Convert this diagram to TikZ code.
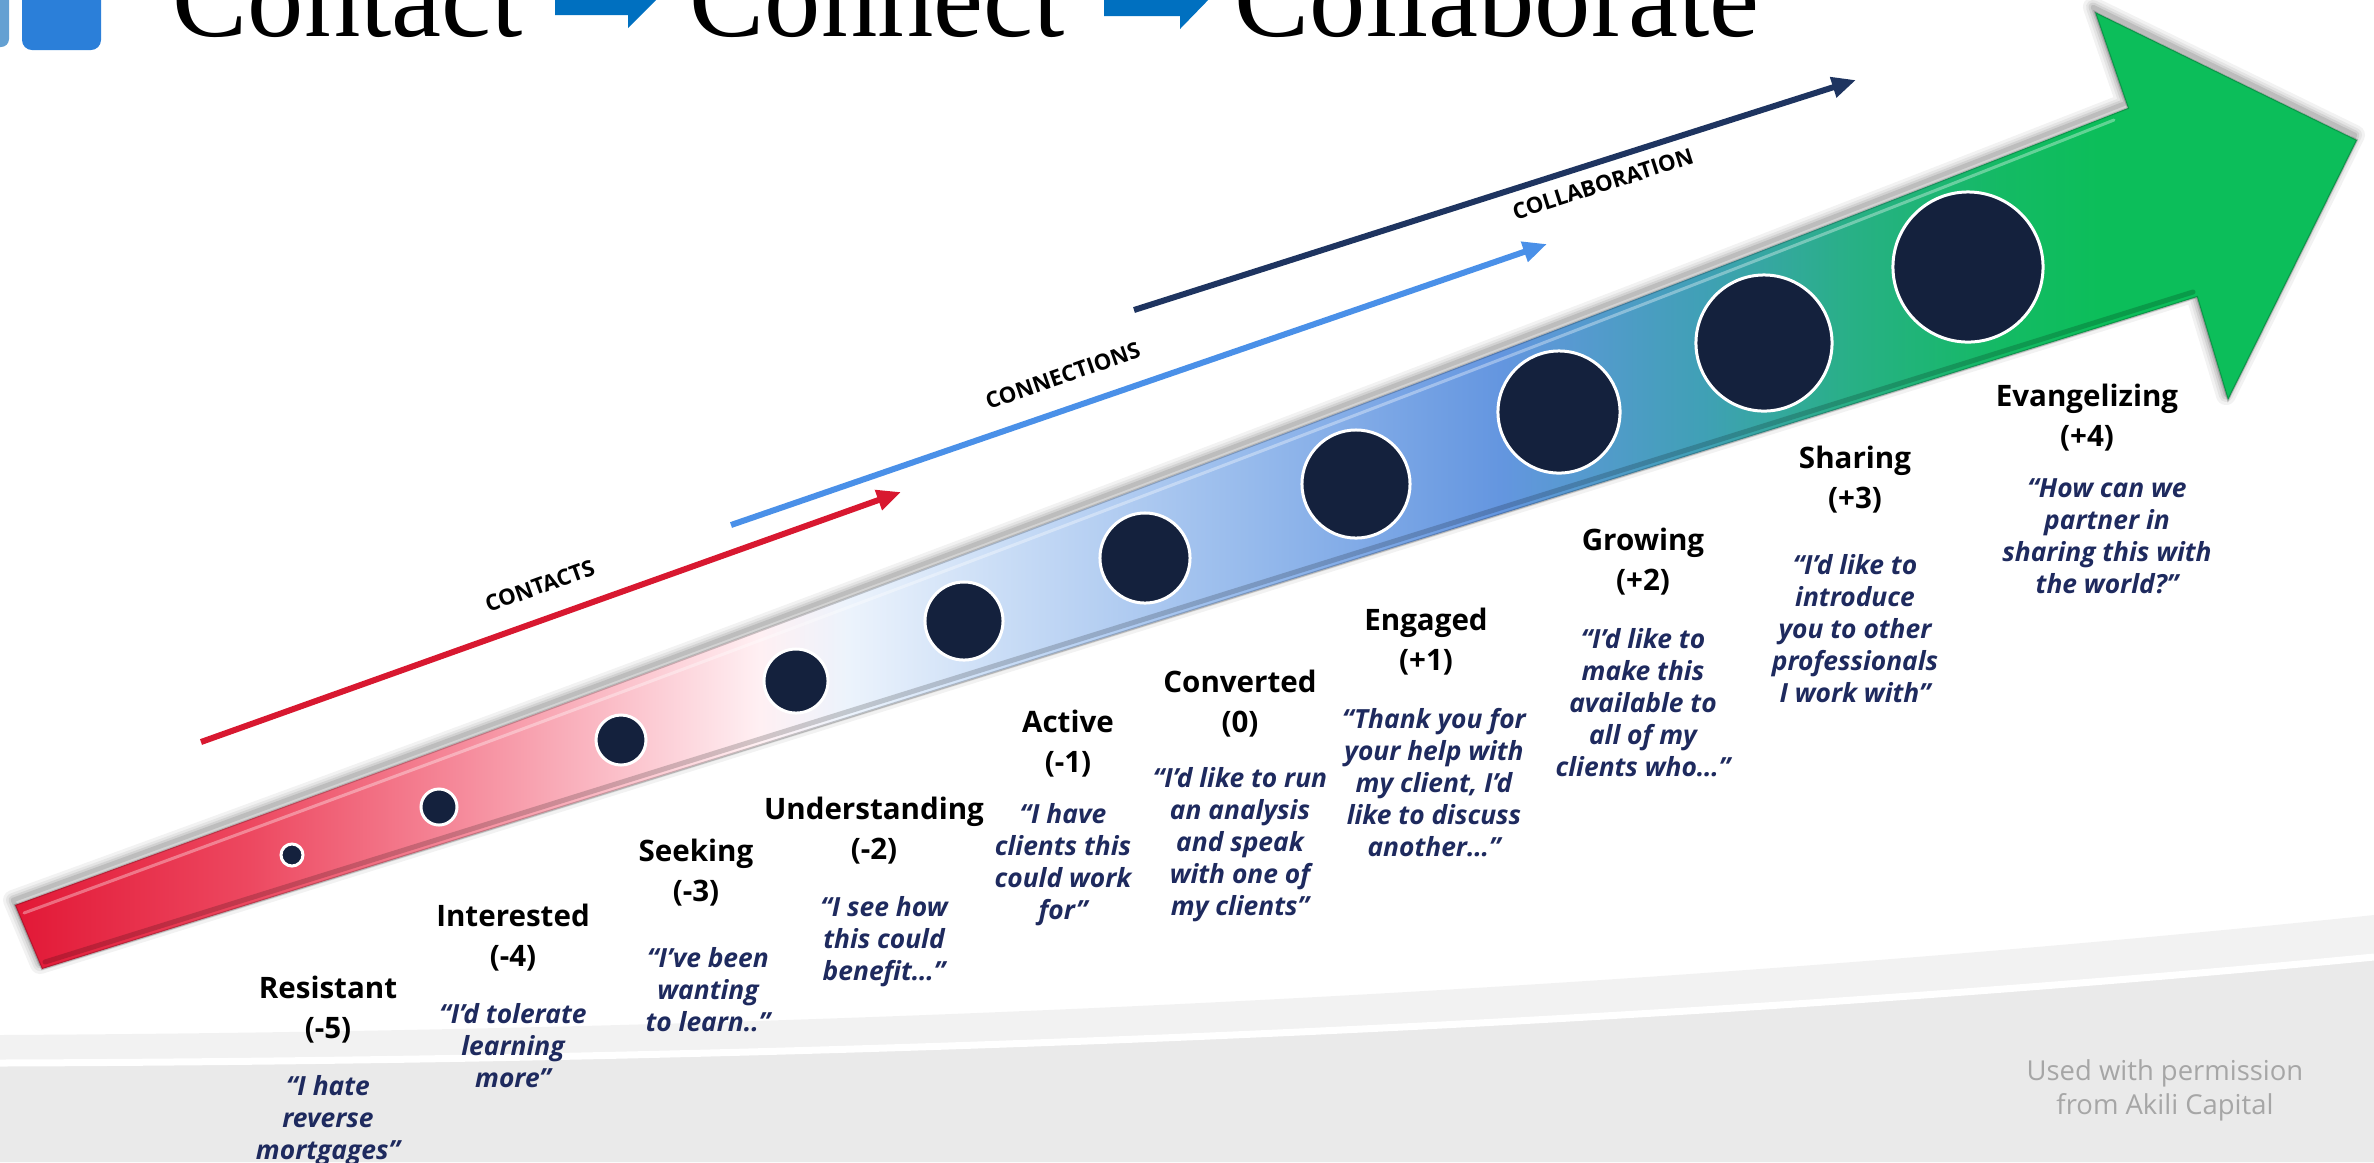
\documentclass[tikz,border=0pt]{standalone}
\usepackage{fontspec}
\setmainfont{Open Sans}
\newfontfamily\headfont{Liberation Serif}
\usepackage{xcolor}
\usepackage{tikz}
\usetikzlibrary{arrows.meta, positioning}

\definecolor{dotnavy}{RGB}{20,33,61}
\definecolor{quotenavy}{RGB}{30,42,94}
\definecolor{titleblue}{RGB}{0,112,192}
\definecolor{iconblue}{RGB}{43,127,217}
\definecolor{iconlight}{RGB}{100,160,210}
\definecolor{contactred}{RGB}{216,24,48}
\definecolor{connectblue}{RGB}{74,144,232}
\definecolor{collabnavy}{RGB}{30,52,96}
\definecolor{creditgrey}{RGB}{166,166,166}
\definecolor{bandlight}{RGB}{242,242,242}
\definecolor{banddark}{RGB}{234,234,234}

% 红 → 白 → 蓝 → 绿
\pgfdeclarehorizontalshading{journey}{100bp}{
  rgb(0bp)=(0.886,0.094,0.212);
  rgb(25bp)=(0.886,0.094,0.212);
  rgb(30bp)=(0.929,0.282,0.376);
  rgb(34.3bp)=(0.961,0.529,0.596);
  rgb(37.9bp)=(0.984,0.753,0.792);
  rgb(40.9bp)=(1,0.941,0.953);
  rgb(42.8bp)=(0.925,0.953,0.988);
  rgb(46bp)=(0.792,0.867,0.965);
  rgb(51.4bp)=(0.588,0.729,0.925);
  rgb(56.7bp)=(0.392,0.588,0.878);
  rgb(61bp)=(0.251,0.627,0.714);
  rgb(64.2bp)=(0.157,0.690,0.525);
  rgb(67.4bp)=(0.078,0.729,0.392);
  rgb(69.5bp)=(0.047,0.745,0.353);
  rgb(75bp)=(0.047,0.745,0.353);
  rgb(100bp)=(0.047,0.745,0.353)}

\tikzset{
  headline/.style={anchor=base west, inner sep=0pt,
                   font=\headfont\fontsize{32}{36}\selectfont},
  stagename/.style={align=center, inner sep=0pt,
                    font=\fontsize{8.4}{11.4}\selectfont\bfseries},
  stagequote/.style={align=center, inner sep=0pt, text=quotenavy,
                     font=\fontsize{7.5}{9.1}\selectfont\bfseries\itshape},
  stagedot/.style={circle, fill=dotnavy, draw=white, line width=0.03cm, inner sep=0pt},
  progline/.style={line width=0.06cm, -{Triangle[length=0.24cm, width=0.2cm]}},
  proglabel/.style={sloped, inner sep=0pt, text=black,
                    font=\fontsize{6.3}{7}\selectfont\bfseries},
  creditnote/.style={align=center, inner sep=0pt, text=creditgrey,
                     font=\fontsize{7.8}{9.6}\selectfont},
}

\newcommand{\bigarrowpath}{(15,905) .. controls (719,649) and (1424,384) .. (2128,108)
  -- (2095,12) -- (2357,140) -- (2228,400) -- (2197,297) -- (42,969) -- cycle}

\begin{document}
\begin{tikzpicture}[x=0.01cm, y=-0.01cm]

% ── 画布 ──────────────────────────────────────────────────────────────────────
\useasboundingbox (0,0) rectangle (2374,1162);
\clip (0,0) rectangle (2374,1162);

% 底部灰色弧带
\fill[bandlight] (0,1035) .. controls (900,1030) and (1700,985) .. (2374,915)
  -- (2374,1162) -- (0,1162) -- cycle;
\fill[banddark] (0,1063) .. controls (900,1060) and (1700,1022) .. (2374,957)
  -- (2374,1162) -- (0,1162) -- cycle;
\draw[white, line width=0.07cm] (0,1063) .. controls (900,1060) and (1700,1022) .. (2374,957);

% ── 标题 ──────────────────────────────────────────────────────────────────────
\fill[iconlight, rounded corners=0.08cm] (-40,-20) rectangle (9,47);
\fill[iconblue, rounded corners=0.1cm] (22,-20) rectangle (101,50);

\node[headline] (tContact) at (172,36) {Contact};
\node[headline] (tConnect) at (689,36) {Connect};
\node[headline] (tCollab) at (1234,36) {Collaborate};

\fill[titleblue] (555,-24) -- (628,-24) -- (628,-38) -- (661,-5) -- (628,28)
  -- (628,15) -- (555,15) -- cycle;
\fill[titleblue] (1104,-24) -- (1180,-24) -- (1180,-38) -- (1213,-5) -- (1180,29)
  -- (1180,16) -- (1104,16) -- cycle;

% ── 主箭头 ────────────────────────────────────────────────────────────────────
\begin{scope}[transform canvas={xshift=-0.02cm, yshift=0.05cm}]
  \foreach \w/\o in {0.2/0.05, 0.14/0.06, 0.09/0.08, 0.045/0.1}
    \draw[line width=\w cm, line join=round, black, opacity=\o] \bigarrowpath;
\end{scope}

\shadedraw[shading=journey, draw=black, draw opacity=0.2, line width=0.02cm] \bigarrowpath;

% 斜面高光
\draw[white, opacity=0.35, line width=0.03cm, line cap=round]
  (24,913) .. controls (722,657) and (1427,392) .. (2114,120);
\draw[black, opacity=0.18, line width=0.05cm, line cap=round]
  (45,962) -- (2193,292);

% ── 阶段圆点 ──────────────────────────────────────────────────────────────────
\foreach \cx/\cy/\r [count=\i] in {292/855/11, 439/807/18, 621/740/25, 796/681/32,
    964/621/39, 1145/558/45, 1356/484/54, 1559/412/61, 1764/343/68, 1968/267/75}
  \node[stagedot, minimum size=\r*0.02cm] (d\i) at (\cx,\cy) {};

% ── 三条进度线 ────────────────────────────────────────────────────────────────
\coordinate (ct0) at (201,742);  \coordinate (ct1) at (901,492);
\coordinate (cn0) at (731,525);  \coordinate (cn1) at (1547,244);
\coordinate (cb0) at (1134,310); \coordinate (cb1) at (1856,80);

\draw[progline, contactred] (ct0) -- node[proglabel, above=0.22cm, pos=0.5] {CONTACTS} (ct1);
\draw[progline, connectblue] (cn0) -- node[proglabel, above=0.22cm, pos=0.42] {CONNECTIONS} (cn1);
\draw[progline, collabnavy] (cb0) -- node[proglabel, below=0.11cm, pos=0.64] {COLLABORATION} (cb1);

% ── 阶段名称与引语 ────────────────────────────────────────────────────────────
\node[stagename] (s1) at (328,1010) {Resistant\\(-5)};
\node[stagequote, below=0.3cm of s1] (q1) {“I hate\\reverse\\mortgages”};

\node[stagename] (s2) at (513,938) {Interested\\(-4)};
\node[stagequote, below=0.3cm of s2] (q2) {“I’d tolerate\\learning\\more”};

\node[stagename] (s3) at (696,873) {Seeking\\(-3)};
\node[stagequote, below=0.39cm of s3, xshift=0.12cm] (q3) {“I’ve been\\wanting\\to learn..”};

\node[stagename] (s4) at (874,831) {Understanding\\(-2)};
\node[stagequote, below=0.3cm of s4, xshift=0.1cm] (q4) {“I see how\\this could\\benefit…”};

\node[stagename] (s5) at (1068,744) {Active\\(-1)};
\node[stagequote, below=0.24cm of s5, xshift=-0.05cm] (q5) {“I have\\clients this\\could work\\for”};

\node[stagename] (s6) at (1240,704) {Converted\\(0)};
\node[stagequote, below=0.28cm of s6] (q6) {“I’d like to run\\an analysis\\and speak\\with one of\\my clients”};

\node[stagename] (s7) at (1426,642) {Engaged\\(+1)};
\node[stagequote, below=0.31cm of s7, xshift=0.08cm] (q7) {“Thank you for\\your help with\\my client, I’d\\like to discuss\\another…”};

\node[stagename] (s8) at (1643,562) {Growing\\(+2)};
\node[stagequote, below=0.31cm of s8] (q8) {“I’d like to\\make this\\available to\\all of my\\clients who…”};

\node[stagename] (s9) at (1855,480) {Sharing\\(+3)};
\node[stagequote, below=0.39cm of s9] (q9) {“I’d like to\\introduce\\you to other\\professionals\\I work with”};

\node[stagename] (s10) at (2087,418) {Evangelizing\\(+4)};
\node[stagequote, below=0.26cm of s10, xshift=0.2cm] (q10) {“How can we\\partner in\\sharing this with\\the world?”};

% 出处
\node[creditnote] (credit) at (2165,1090) {Used with permission\\from Akili Capital};

\end{tikzpicture}
\end{document}
